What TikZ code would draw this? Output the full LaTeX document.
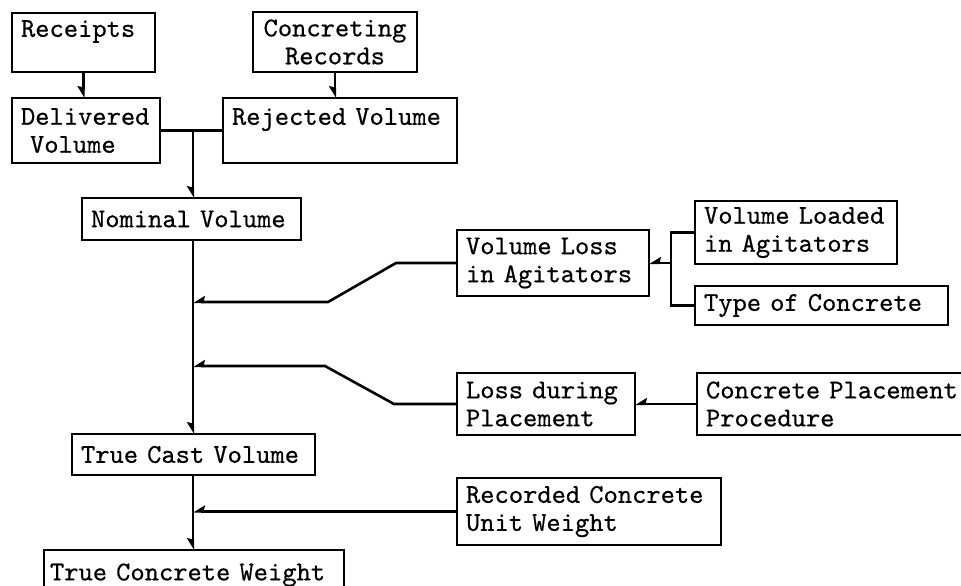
\documentclass[tikz,border=0pt]{standalone}
\usepackage{fontspec}
\setmonofont{lmmono10-regular.otf}[FakeBold=0.5]
\usetikzlibrary{arrows.meta}
% typewriter face of the box labels, with a fixed one-character word space
\protected\def\boxfont{\ttfamily\fontsize{13.6}{14}\selectfont
  \fontdimen2\font=0.525em\relax}
\begin{document}
\begin{tikzpicture}[x=0.5pt,y=-0.5pt,
  box/.style={draw, line width=1.1pt, anchor=north west, align=left,
    inner xsep=4.5pt, inner ysep=0pt, outer sep=0pt, font=\boxfont},
  link/.style={line width=1.3pt},
  feed/.style={link, -{Stealth[harpoon,swap,length=5pt,width=6pt,inset=0.6pt]}}]
% page
\useasboundingbox (0,0) rectangle (961,585);
\fill[white] (0,0) rectangle (961,585);

% spine of the main calculation
\coordinate (sp) at (193,0);

% boxes
\node[box, text width=62.5pt, minimum height=29.5pt] (rec)   at (12,13)  {Receipts\\\mbox{}};
\node[box, text width=73pt,   minimum height=30pt, align=center] (conc) at (253,12) {Concreting\\Records};
\node[box, text width=65pt,   minimum height=32.5pt] (deliv) at (12,98)  {Delivered\\\ Volume};
\node[box, text width=108pt,  minimum height=32.5pt] (rej)   at (223,98) {Rejected Volume\\\mbox{}};
\node[box, text width=100.5pt,minimum height=21pt]   (nom)   at (82,198) {Nominal Volume};
\node[box, text width=87pt,   minimum height=33pt]   (vla)   at (457,230) {Volume Loss\\in Agitators};
\node[box, text width=92pt,   minimum height=31.5pt] (vload) at (695,201) {Volume Loaded\\in Agitators};
\node[box, text width=117.5pt,minimum height=19.5pt] (toc)   at (695,286) {Type of Concrete};
\node[box, text width=80pt,   minimum height=31pt]   (ldp)   at (457,373) {Loss during\\Placement};
\node[box, text width=131pt,  minimum height=31pt]   (cpp)   at (697,373) {Concrete Placement\\Procedure};
\node[box, text width=112.5pt,minimum height=20.5pt] (tcv)   at (72,434)  {True Cast Volume};
\node[box, text width=123pt,  minimum height=33.5pt] (rcu)   at (457,478) {Recorded Concrete\\Unit Weight};
\node[box, text width=144pt,  minimum height=25pt, inner xsep=3pt] (tcw) at (44,550) {True Concrete Weight};

% junction points
\coordinate (j0) at (193,131);
\coordinate (s1) at (193,302);
\coordinate (s2) at (193,366);
\coordinate (br) at (671,263);

% sources of the delivered and rejected volumes
\draw[feed] (rec.south) -- (rec.south |- deliv.north);
\draw[feed] (conc.south) -- (conc.south |- rej.north);
\draw[link] (deliv.east) -- (rej.west);
\draw[feed] (j0) -- (j0 |- nom.north);

% nominal volume down to the true cast volume
\draw[feed] (nom.south -| sp) -- (tcv.north -| sp);

% losses joining the spine
\draw[feed] (vla.west) -- ++(-61,0) -- ++(-68,39) -- (s1);
\draw[feed] (ldp.west) -- ++(-63,0) -- ++(-69,-38) -- (s2);

% factors of the agitator loss
\draw[link] (vload.west) -| (br);
\draw[link] (toc.west) -| (br);
\draw[feed] (br) -- (vla.east);

% placement procedure
\draw[feed] (cpp.west) -- (ldp.east);

% true cast volume to weight
\draw[feed] (tcv.south -| sp) -- (tcw.north -| sp);
\draw[feed] (rcu.west) -- (rcu.west -| sp);
\end{tikzpicture}
\end{document}
